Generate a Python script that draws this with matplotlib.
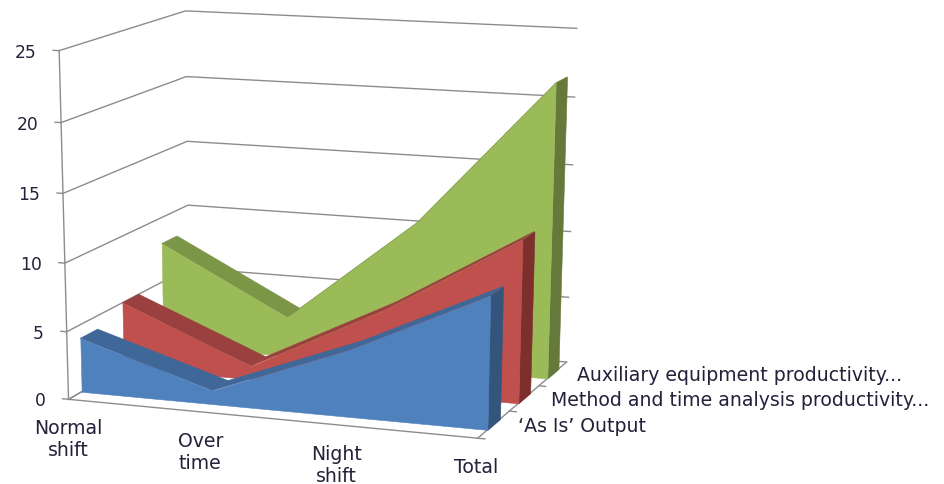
import numpy as np
import matplotlib
matplotlib.use('Agg')
from matplotlib import pyplot as plt
from mpl_toolkits.mplot3d.art3d import Poly3DCollection

categories = ['Normal\nshift', 'Over\ntime', 'Night\nshift', 'Total']
as_is = [4, 1, 4.8, 9.5]
method = [5, 1, 6, 11.9]
auxiliary = [8, 3, 11, 21.8]
series_names = ["‘As Is’ Output",
                'Method and time analysis productivity...',
                'Auxiliary equipment productivity...']
z_ticks = [0, 5, 10, 15, 20, 25]

W, H = 945, 485
GRID = '#8c8c8c'
TEXT = '#22223a'

# front, top and side shades per series
shades = [('#4f81bd', '#3f6797', '#33557c'),
          ('#c0504d', '#9a403e', '#7d2f2e'),
          ('#9bbb59', '#7c9647', '#64793a')]

# camera: where known corners of the chart box land on the canvas
world = np.array([(0, 0, 0), (0, 0, 25), (3, 0, 0), (0, 3, 25), (3, 3, 0), (3, 3, 25),
                  (0, 3, 0), (1, 0, 0), (0, 0, 10), (0, 3, 10), (3, 3, 10), (2, 0, 0)], float)
canvas = np.array([(70, 400), (57, 52), (478, 440), (187, 12), (567, 362), (577, 30),
                   (188, 333), (200, 413), (66, 263), (188, 205), (570, 232), (336, 426)], float)
canvas[:, 1] = H - canvas[:, 1]

rows = []
for (x, y, z), (u, v) in zip(world, canvas):
    rows.append([x, y, z, 1, 0, 0, 0, 0, -u * x, -u * y, -u * z, -u])
    rows.append([0, 0, 0, 0, x, y, z, 1, -v * x, -v * y, -v * z, -v])
P = np.linalg.svd(np.array(rows))[2][-1].reshape(3, 4)

fig = plt.figure(figsize=(W / 100, H / 100), dpi=100)
ax = fig.add_axes([0, 0, 1, 1], projection='3d', computed_zorder=False)
ax.set_axis_off()
ax.apply_aspect = lambda position=None: None


def get_proj():
    top = ax.transData.inverted().get_matrix() @ P
    depth = np.array([0, 1, 0, 0]) * abs(top[2]).max()
    return np.vstack([top[0], top[1], depth, top[2]])


ax.get_proj = get_proj


def line(xs, ys, zs, lw=1.0, color=GRID, zorder=1):
    ax.plot(xs, ys, zs, color=color, lw=lw, zorder=zorder)


def label(x, y, z, s, size=13.6, dx=0, dy=0, **kw):
    # labels stay flat, so place them on the figure at the projected spot
    u, v, w = P @ np.array([x, y, z, 1.0])
    fig.text((u / w + dx) / W, (v / w + dy) / H, s, fontsize=size, color=TEXT,
             family='DejaVu Sans', **kw)


# walls
for z in z_ticks:
    line([0, 0, 3], [0, 3, 3], [z, z, z])
    line([-0.045, 0], [0, 0], [z, z])
    label(0, 0, z, str(z), size=12.3, dx=-23, dy=-1, ha='right', va='center')
line([0, 0], [0, 0], [0, 25])

# floor edges and their ticks
line([0, 3], [0, 0], [0, 0], zorder=2)
line([0, 0], [0, 3], [0, 0], zorder=2)
line([3, 3], [0, 3], [0, 0], zorder=2)
for i in range(4):
    line([i, i], [0, -0.06], [0, -0.3], zorder=2)
for i in range(3):
    line([3, 3.05], [i, i], [0, 0], zorder=2)

# areas, back to front
all_values = [as_is, method, auxiliary]
xs = np.arange(len(categories))
for i in [2, 1, 0]:
    vals = all_values[i]
    front_c, top_c, side_c = shades[i]
    y0, y1 = i + 0.3, i + 0.7
    base = 10 + 3 * (2 - i)
    tops = [[(xs[k], y0, vals[k]), (xs[k + 1], y0, vals[k + 1]),
             (xs[k + 1], y1, vals[k + 1]), (xs[k], y1, vals[k])] for k in range(3)]
    ax.add_collection3d(Poly3DCollection(tops, facecolor=top_c, edgecolor=top_c, lw=0.4,
                                         zorder=base))
    side = [[(3, y0, 0), (3, y1, 0), (3, y1, vals[3]), (3, y0, vals[3])]]
    ax.add_collection3d(Poly3DCollection(side, facecolor=side_c, edgecolor=side_c, lw=0.4,
                                         zorder=base + 1))
    front = [[(0, y0, 0)] + [(xs[k], y0, vals[k]) for k in range(4)] + [(3, y0, 0)]]
    ax.add_collection3d(Poly3DCollection(front, facecolor=front_c, edgecolor=front_c, lw=0.4,
                                         zorder=base + 2))

for i, name in enumerate(categories):
    label(i, 0, 0, name, dx=-2 if i == 3 else 0, dy=-19, ha='center', va='top', linespacing=1.2)
for i, name in enumerate(series_names):
    label(3, i + 0.5, 0, name, dx=24 + (3 if i == 1 else 0), dy=-1, ha='left', va='center')

fig.savefig('out.png', dpi=100)
